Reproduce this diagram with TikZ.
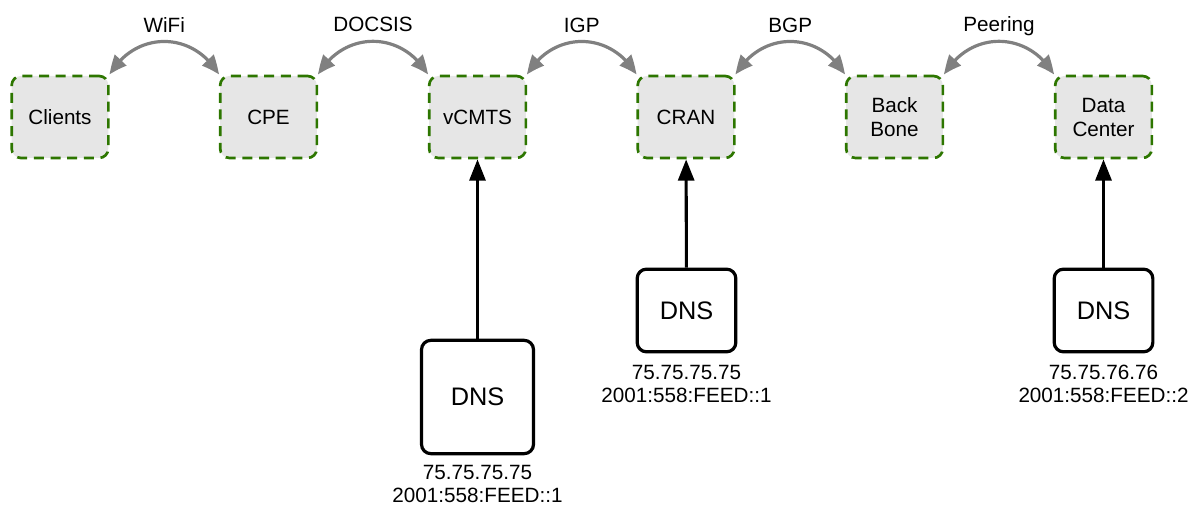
\documentclass[tikz,border=0pt]{standalone}
\usepackage{fontspec}
\setmainfont{Liberation Sans}
\usetikzlibrary{
    positioning,
    arrows.meta,
    bending
    }
\definecolor{sitegreen}{HTML}{2D7600}
\definecolor{sitefill}{HTML}{E6E6E6}
\definecolor{linkgray}{HTML}{808080}

\begin{document}
\begin{tikzpicture}[x=0.75pt, y=0.75pt]
\tikzset{site/.style =
        {
            rectangle,
            rounded corners=7pt,
            dash pattern=on 7.5pt off 5pt,
            line width=2pt,
            draw=sitegreen,
            fill=sitefill,
            minimum width=72.5pt,
            minimum height=61.5pt,
            align=center,
            font=\fontsize{15.5}{18}\selectfont
        }
}

\tikzset{dns/.style =
        {
            rectangle,
            rounded corners=7pt,
            line width=2.4pt,
            draw=black,
            fill=white,
            minimum width=74pt,
            minimum height=62pt,
            font=\fontsize{19}{22}\selectfont
        }
}

\tikzset{addr/.style =
        {
            inner sep=0pt,
            align=center,
            font=\fontsize{15.5}{17.5}\selectfont
        }
}

\tikzset{proto/.style =
        {
            inner sep=0pt,
            anchor=base,
            yshift=7pt,
            text=black,
            font=\fontsize{15.5}{18}\selectfont
        }
}

\tikzset{link/.style = {
            line width=2.4pt,
            linkgray,
            {Triangle[length=14pt, width=11.5pt, bend]}-{Triangle[length=14pt, width=11.5pt, bend]}
        }
}

\tikzset{feed/.style = {
            line width=2.3pt,
            black,
            -{Triangle[length=16pt, width=12pt]}
        }
}

		\useasboundingbox (0,0) rectangle (1194,506);

		\foreach \name / \x / \txt in
			{clients/60/Clients,
				cpe/268.5/CPE,
				vcmts/477.5/vCMTS,
				cran/686/CRAN,
				backbone/894.5/{Back\\Bone},
				datacenter/1103.5/{Data\\Center}}
		\node[site] at (\x,389) (\name) {\txt};

		\node[dns, minimum width=84pt, minimum height=85pt] at (477.5,109) (dns-vcmts) {DNS};
		\node[dns] at (686.5,195.5) (dns-cran) {DNS};
		\node[dns] at (1103.5,195.5) (dns-datacenter) {DNS};

		\node[addr, below=7pt of dns-vcmts] (addr-vcmts) {75.75.75.75\\2001:558:FEED::1};
		\node[addr, below=8.5pt of dns-cran] (addr-cran) {75.75.75.75\\2001:558:FEED::1};
		\node[addr, below=8.5pt of dns-datacenter] (addr-datacenter) {75.75.76.76\\2001:558:FEED::2};

		\foreach \from / \to / \lab in
			{clients/cpe/WiFi,
				cpe/vcmts/DOCSIS,
				vcmts/cran/IGP,
				cran/backbone/BGP,
				backbone/datacenter/Peering}
		\draw [link] (\from.north east) to [bend left=60, looseness=1.2] node[proto] (proto-\lab) {\lab} (\to.north west);

		\foreach \site in {vcmts, cran, datacenter}
		\draw [feed] (dns-\site) -- (\site);

	\end{tikzpicture}
\end{document}
